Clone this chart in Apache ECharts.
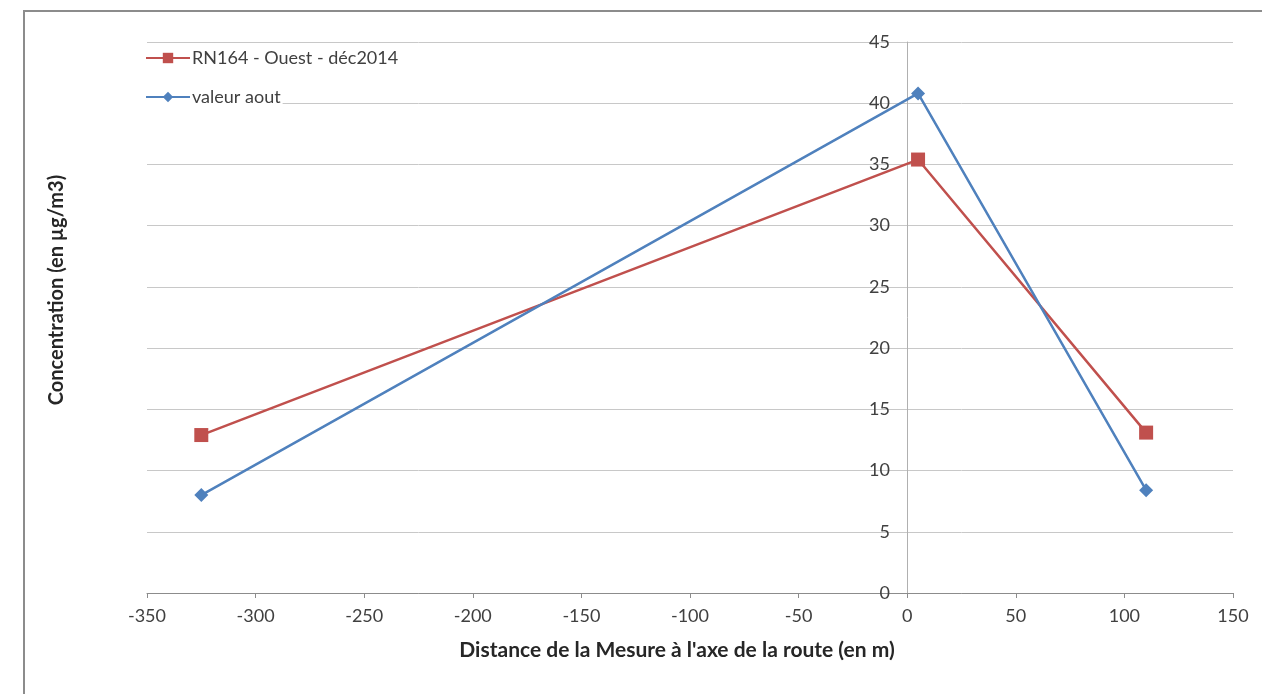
<!DOCTYPE html>
<html><head><meta charset="utf-8">
<script src="https://cdn.jsdelivr.net/npm/echarts@6/dist/echarts.min.js"></script>
<style>
html,body{margin:0;padding:0;background:#fff;}
#frame{position:absolute;left:23px;top:10px;width:1300px;height:700px;border-left:2px solid #8c8c8c;border-top:2px solid #8c8c8c;box-sizing:border-box;}
#chart{position:absolute;left:0;top:0;width:1262px;height:694px;}
</style></head>
<body>
<div id="frame"></div>
<div id="chart"></div>
<script>
const distances = [-325, 5, 110];
const redValues = [12.9, 35.4, 13.1];
const blueValues = [8.0, 40.8, 8.4];
const seriesNames = ['RN164 - Ouest - déc2014', 'valeur aout'];
const xTitle = "Distance de la Mesure à l'axe de la route (en m)";
const yTitle = 'Concentration (en µg/m3)';

const chart = echarts.init(document.getElementById('chart'), null, {renderer: 'canvas'});
const font = 'Lato';
const legendBase = {
  orient: 'vertical', left: 145,
  itemWidth: 44, itemHeight: 13,
  backgroundColor: '#ffffff', padding: [1, 2, 1, 0],
  textStyle: {color: '#404040', fontFamily: font, fontSize: 18, padding: [0, 0, 0, -3]}
};
const option = {
  backgroundColor: 'transparent',
  animation: false,
  grid: {left: 147, right: 29, top: 42, bottom: 101, containLabel: false},
  xAxis: {
    type: 'value', min: -350, max: 150, interval: 50,
    axisLine: {onZero: false, lineStyle: {color: '#8c8c8c', width: 1}},
    axisTick: {show: true, length: 5, lineStyle: {color: '#8c8c8c'}},
    axisLabel: {color: '#404040', fontFamily: font, fontSize: 18, margin: 14},
    splitLine: {show: false}
  },
  yAxis: {
    type: 'value', min: 0, max: 45, interval: 5,
    axisLine: {show: true, onZero: true, lineStyle: {color: '#b0b0b0', width: 1}},
    axisTick: {show: false},
    axisLabel: {color: '#404040', fontFamily: font, fontSize: 18, margin: -743},
    splitLine: {show: true, lineStyle: {color: '#c8c8c8', width: 1}}
  },
  legend: [
    Object.assign({}, legendBase, {top: 48, data: [seriesNames[0]]}),
    Object.assign({}, legendBase, {top: 87, data: [seriesNames[1]]})
  ],
  graphic: [
    {type: 'text', x: 677, y: 650,
     style: {text: xTitle, font: 'bold 21px Lato', fill: '#262626', align: 'center', verticalAlign: 'middle'}},
    {type: 'text', x: 57, y: 290, rotation: Math.PI / 2,
     style: {text: yTitle, font: 'bold 20px Lato', fill: '#262626', align: 'center', verticalAlign: 'middle'}}
  ],
  series: [
    {name: seriesNames[0], type: 'line', data: distances.map((d, i) => [d, redValues[i]]),
     symbol: 'rect', symbolSize: 14, color: '#C0504D',
     lineStyle: {color: '#C0504D', width: 2.5}, itemStyle: {color: '#C0504D'}},
    {name: seriesNames[1], type: 'line', data: distances.map((d, i) => [d, blueValues[i]]),
     symbol: 'diamond', symbolSize: 14, color: '#4F81BD',
     lineStyle: {color: '#4F81BD', width: 2.5}, itemStyle: {color: '#4F81BD'}}
  ]
};
chart.setOption(option);
</script>
</body></html>
